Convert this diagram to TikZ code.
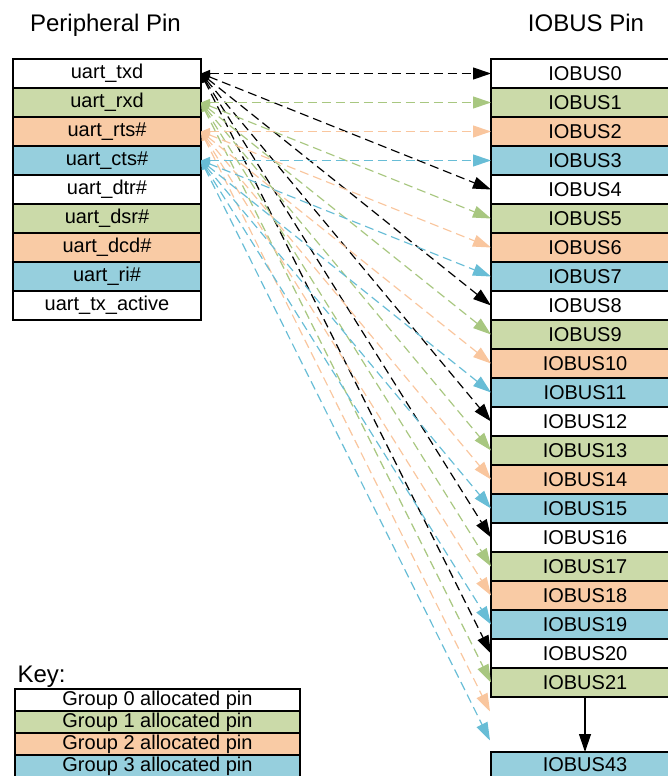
\documentclass[tikz,border=0pt]{standalone}
\usepackage{fontspec}
\setmainfont{Liberation Sans}
\usepackage{tikz}
\usetikzlibrary{arrows.meta}

\definecolor{grpgreen}{RGB}{203,218,169}
\definecolor{grporange}{RGB}{249,203,165}
\definecolor{grpblue}{RGB}{150,207,221}
\definecolor{lnkgreen}{RGB}{168,199,128}
\definecolor{lnkorange}{RGB}{249,198,158}
\definecolor{lnkblue}{RGB}{104,189,214}

\newcommand{\cellsize}{\fontsize{20}{24}\selectfont}
\newcommand{\titlesize}{\fontsize{24}{28}\selectfont}

\tikzset{
	pinbox/.style={draw, line width=1.2pt, minimum width=188pt, minimum height=29pt, inner sep=0pt, outer sep=0pt, font=\cellsize},
	keybox/.style={draw, line width=1.2pt, minimum width=285pt, minimum height=22pt, inner sep=0pt, outer sep=0pt, font=\cellsize},
	link/.style={line width=1.2pt, dash pattern=on 9pt off 5pt, {Triangle[length=9pt,width=7pt]}-{Triangle[length=18pt,width=12pt]}},
}

\begin{document}
\begin{tikzpicture}[x=1pt, y=-1pt]
		%%%%% START %%%%%
		\useasboundingbox (0, 0) rectangle (668, 776);
		
		\node[anchor=base, font=\titlesize] (ttlperiph) at (105.5, 32) {Peripheral Pin};
		\node[anchor=base, font=\titlesize] (ttliobus) at (586, 32) {IOBUS Pin};
		
		% peripheral pins
		\node[pinbox, fill=white] (pin0) at (107, 73.5) {uart\_txd};
		\node[pinbox, fill=grpgreen] (pin1) at (107, 102.5) {uart\_rxd};
		\node[pinbox, fill=grporange] (pin2) at (107, 131.5) {uart\_rts\#};
		\node[pinbox, fill=grpblue] (pin3) at (107, 160.5) {uart\_cts\#};
		\node[pinbox, fill=white] (pin4) at (107, 189.5) {uart\_dtr\#};
		\node[pinbox, fill=grpgreen] (pin5) at (107, 218.5) {uart\_dsr\#};
		\node[pinbox, fill=grporange] (pin6) at (107, 247.5) {uart\_dcd\#};
		\node[pinbox, fill=grpblue] (pin7) at (107, 276.5) {uart\_ri\#};
		\node[pinbox, fill=white] (pin8) at (107, 305.5) {uart\_tx\_active};
		
		% iobus pins
		\node[pinbox, fill=white] (bus0) at (585, 73.5) {IOBUS0};
		\node[pinbox, fill=grpgreen] (bus1) at (585, 102.5) {IOBUS1};
		\node[pinbox, fill=grporange] (bus2) at (585, 131.5) {IOBUS2};
		\node[pinbox, fill=grpblue] (bus3) at (585, 160.5) {IOBUS3};
		\node[pinbox, fill=white] (bus4) at (585, 189.5) {IOBUS4};
		\node[pinbox, fill=grpgreen] (bus5) at (585, 218.5) {IOBUS5};
		\node[pinbox, fill=grporange] (bus6) at (585, 247.5) {IOBUS6};
		\node[pinbox, fill=grpblue] (bus7) at (585, 276.5) {IOBUS7};
		\node[pinbox, fill=white] (bus8) at (585, 305.5) {IOBUS8};
		\node[pinbox, fill=grpgreen] (bus9) at (585, 334.5) {IOBUS9};
		\node[pinbox, fill=grporange] (bus10) at (585, 363.5) {IOBUS10};
		\node[pinbox, fill=grpblue] (bus11) at (585, 392.5) {IOBUS11};
		\node[pinbox, fill=white] (bus12) at (585, 421.5) {IOBUS12};
		\node[pinbox, fill=grpgreen] (bus13) at (585, 450.5) {IOBUS13};
		\node[pinbox, fill=grporange] (bus14) at (585, 479.5) {IOBUS14};
		\node[pinbox, fill=grpblue] (bus15) at (585, 508.5) {IOBUS15};
		\node[pinbox, fill=white] (bus16) at (585, 537.5) {IOBUS16};
		\node[pinbox, fill=grpgreen] (bus17) at (585, 566.5) {IOBUS17};
		\node[pinbox, fill=grporange] (bus18) at (585, 595.5) {IOBUS18};
		\node[pinbox, fill=grpblue] (bus19) at (585, 624.5) {IOBUS19};
		\node[pinbox, fill=white] (bus20) at (585, 653.5) {IOBUS20};
		\node[pinbox, fill=grpgreen] (bus21) at (585, 682.5) {IOBUS21};
		\coordinate (bus22) at (490, 711.5);
		\coordinate (bus23) at (490, 740.5);
		\node[pinbox, fill=grpblue, text depth=0pt, minimum height=26pt, anchor=north] (bus43) at (585, 752) {IOBUS43};
		
		\draw[line width=1.2pt, -{Triangle[length=18pt,width=12pt]}] (bus21.south) -- (bus43.north);
		
		% group 0
		\draw[link, color=black] (pin0.east) -- (bus0.west);
		\draw[link, color=black] (pin0.east) -- (bus4.west);
		\draw[link, color=black] (pin0.east) -- (bus8.west);
		\draw[link, color=black] (pin0.east) -- (bus12.west);
		\draw[link, color=black] (pin0.east) -- (bus16.west);
		\draw[link, color=black] (pin0.east) -- (bus20.west);
		
		% group 1
		\draw[link, color=lnkgreen] (pin1.east) -- (bus1.west);
		\draw[link, color=lnkgreen] (pin1.east) -- (bus5.west);
		\draw[link, color=lnkgreen] (pin1.east) -- (bus9.west);
		\draw[link, color=lnkgreen] (pin1.east) -- (bus13.west);
		\draw[link, color=lnkgreen] (pin1.east) -- (bus17.west);
		\draw[link, color=lnkgreen] (pin1.east) -- (bus21.west);
		
		% group 2
		\draw[link, color=lnkorange] (pin2.east) -- (bus2.west);
		\draw[link, color=lnkorange] (pin2.east) -- (bus6.west);
		\draw[link, color=lnkorange] (pin2.east) -- (bus10.west);
		\draw[link, color=lnkorange] (pin2.east) -- (bus14.west);
		\draw[link, color=lnkorange] (pin2.east) -- (bus18.west);
		\draw[link, color=lnkorange] (pin2.east) -- (bus22);
		
		% group 3
		\draw[link, color=lnkblue] (pin3.east) -- (bus3.west);
		\draw[link, color=lnkblue] (pin3.east) -- (bus7.west);
		\draw[link, color=lnkblue] (pin3.east) -- (bus11.west);
		\draw[link, color=lnkblue] (pin3.east) -- (bus15.west);
		\draw[link, color=lnkblue] (pin3.east) -- (bus19.west);
		\draw[link, color=lnkblue] (pin3.east) -- (bus23);
		
		% key
		\node[anchor=base west, font=\titlesize] (keylbl) at (14, 682) {Key:};
		\node[keybox, fill=white] (key0) at (157.5, 700) {Group 0 allocated pin};
		\node[keybox, fill=grpgreen] (key1) at (157.5, 722) {Group 1 allocated pin};
		\node[keybox, fill=grporange] (key2) at (157.5, 744) {Group 2 allocated pin};
		\node[keybox, fill=grpblue] (key3) at (157.5, 766) {Group 3 allocated pin};
		
		%%%%% END %%%%%
	\end{tikzpicture}
\end{document}
